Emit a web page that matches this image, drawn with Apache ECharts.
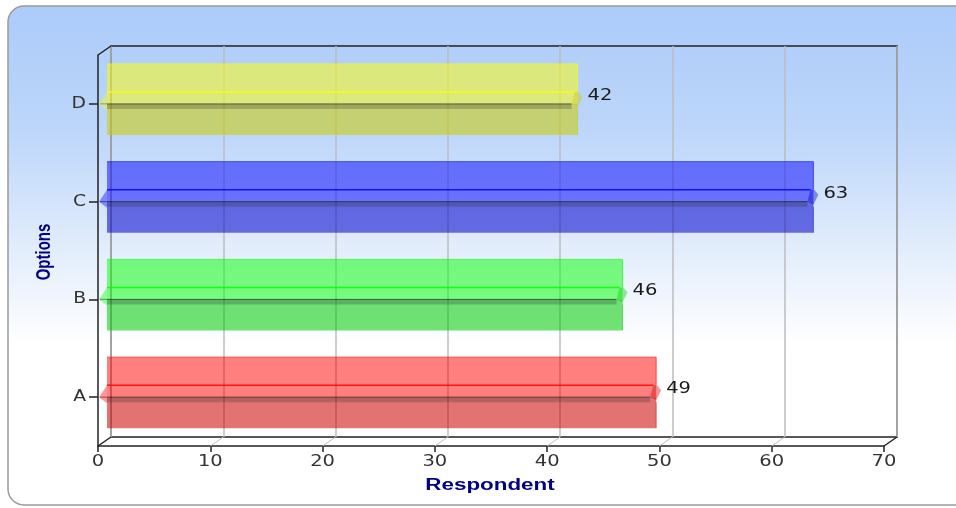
<!DOCTYPE html>
<html>
<head>
<meta charset="utf-8">
<script src="https://cdn.jsdelivr.net/npm/echarts@6/dist/echarts.min.js"></script>
<style>
  html, body { margin: 0; padding: 0; background: #fff; }
  #chart { width: 956px; height: 508px; }
</style>
</head>
<body>
<div id="chart"></div>
<script>
const categories = ["A", "B", "C", "D"];
const values = [49, 46, 63, 42];
const barColors = [[255, 0, 0], [0, 255, 0], [0, 0, 255], [255, 255, 0]];
const xTicks = [0, 10, 20, 30, 40, 50, 60, 70];
const xMax = 70;
const xStep = 10;

// pseudo 3d depth offset between front and back planes
const DX = 13, DY = -9;
const front = { left: 98, right: 72, top: 55, bottom: 62 };
const labelFont = '15px "DejaVu Sans"';

const chart = echarts.init(document.getElementById("chart"));

function rgba(c, a) {
  return `rgba(${c[0]},${c[1]},${c[2]},${a})`;
}

function renderBar(params, api) {
  const v = api.value(0);
  const ci = api.value(1);
  const p0 = api.coord([0, ci]);
  const p1 = api.coord([v, ci]);
  const c = p0[1];
  const xl = p0[0] + 9;
  const xr = p1[0] + 8;
  const col = barColors[params.dataIndex];
  const dark = col.map((x) => Math.round(x * 0.8));
  return {
    type: "group",
    children: [
      { type: "rect", shape: { x: xl, y: c - 40, width: xr - xl, height: 40 },
        style: { fill: rgba(col, 0.5) } },
      { type: "rect", shape: { x: xl, y: c, width: xr - xl, height: 31 },
        style: { fill: rgba(dark, 0.55) } },
      { type: "rect", shape: { x: xl, y: c, width: p1[0] + 2 - xl, height: 5 },
        style: { fill: "rgba(40,40,40,0.25)" } },
      { type: "polyline", shape: { points: [[xl, c - 40], [xr, c - 40], [xr, c - 12]] },
        style: { stroke: rgba(col, 0.6), lineWidth: 1, fill: null } },
      { type: "polyline", shape: { points: [[xr, c + 5], [xr, c + 31]] },
        style: { stroke: rgba(dark, 0.5), lineWidth: 1, fill: null } },
      { type: "line", shape: { x1: xl, y1: c - 12, x2: p1[0] + 5, y2: c - 12 },
        style: { stroke: rgba(col, 0.85), lineWidth: 1.5 } },
      { type: "line", shape: { x1: p0[0] + 2, y1: c, x2: p1[0] + 2, y2: c },
        style: { stroke: "rgba(0,0,0,0.55)", lineWidth: 1 } },
      { type: "polygon", shape: { points: [[xl, c - 12], [p0[0] + 1, c], [xl, c + 6]] },
        style: { fill: rgba(col, 0.4) } },
      { type: "polygon",
        shape: { points: [[p1[0] + 5, c - 12], [p1[0] + 9, c - 12], [p1[0] + 13, c - 7], [p1[0] + 8, c + 3], [p1[0] + 2, c]] },
        style: { fill: rgba(dark, 0.4) } },
      { type: "text", x: p1[0] + 18, y: c - 8, scaleX: 1.3,
        style: { text: String(v), font: labelFont, fill: "#1a1a1a",
                 align: "left", verticalAlign: "middle" } }
    ]
  };
}

function renderFrame(params, api) {
  const cs = params.coordSys;
  const v = api.value(0);
  const x = api.coord([v, 0])[0];
  const yb = cs.y + cs.height;
  const edge = v === 0 || v === xMax;
  const children = [
    { type: "line", shape: { x1: x, y1: yb, x2: x + DX, y2: yb + DY },
      style: { stroke: edge ? "#222" : "#c0c0c0", lineWidth: edge ? 1.5 : 1 } },
    { type: "text", x: x, y: yb + 16, scaleX: 1.3,
      style: { text: String(v), font: labelFont, fill: "#333",
               align: "center", verticalAlign: "middle" } }
  ];
  if (v === 0) {
    children.push({ type: "line", shape: { x1: cs.x, y1: cs.y, x2: cs.x + DX, y2: cs.y + DY },
      style: { stroke: "#222", lineWidth: 1.5 } });
  }
  return { type: "group", children };
}

function renderCategory(params, api) {
  const cs = params.coordSys;
  const y = api.coord([0, api.value(0)])[1];
  return {
    type: "text", x: cs.x - 12, y: y, scaleX: 1.25,
    style: { text: categories[params.dataIndex], font: labelFont, fill: "#333",
             align: "right", verticalAlign: "middle" }
  };
}

const option = {
  backgroundColor: "#fff",
  animation: false,
  graphic: [
    {
      type: "rect", z: -10, silent: true,
      shape: { x: 8, y: 6, width: 1000, height: 499, r: 16 },
      style: {
        fill: new echarts.graphic.LinearGradient(0, 0, 0, 1, [
          { offset: 0, color: "#abcbf9" },
          { offset: 0.25, color: "#bdd6fa" },
          { offset: 0.5, color: "#e4eefc" },
          { offset: 0.68, color: "#ffffff" },
          { offset: 1, color: "#ffffff" }
        ]),
        stroke: "#9a9a9a", lineWidth: 1.5
      }
    },
    {
      type: "text", x: 490, y: 486, scaleX: 1.4, z: 10,
      style: { text: "Respondent", font: 'bold 16px "Liberation Sans"', fill: "#000080",
               align: "center", verticalAlign: "middle" }
    },
    {
      type: "text", x: 45, y: 252, rotation: Math.PI / 2, scaleY: 1.3, z: 10,
      style: { text: "Options", font: 'bold 15px "Liberation Sans"', fill: "#000080",
               align: "center", verticalAlign: "middle" }
    }
  ],
  grid: [
    { left: front.left, right: front.right, top: front.top, bottom: front.bottom },
    {
      left: front.left + DX, right: front.right - DX, top: front.top + DY, bottom: front.bottom - DY,
      show: true, borderColor: "#222", borderWidth: 1.5, backgroundColor: "transparent"
    }
  ],
  xAxis: [
    {
      type: "value", gridIndex: 0, min: 0, max: xMax, interval: xStep,
      axisLine: { show: true, lineStyle: { color: "#222", width: 1.5 } },
      axisTick: { show: true, length: 6, lineStyle: { color: "#222", width: 1.5 } },
      axisLabel: { show: false },
      splitLine: { show: false }
    },
    {
      type: "value", gridIndex: 1, min: 0, max: xMax, interval: xStep,
      axisLine: { show: false }, axisTick: { show: false }, axisLabel: { show: false },
      splitLine: { show: true, lineStyle: { color: "#bdbdbd", width: 1.5 } }
    }
  ],
  yAxis: [
    {
      type: "category", gridIndex: 0, data: categories,
      axisLine: { show: true, lineStyle: { color: "#222", width: 1.5 } },
      axisTick: { show: true, alignWithLabel: true, length: 9, lineStyle: { color: "#222", width: 1.5 } },
      axisLabel: { show: false },
      splitLine: { show: false }
    },
    {
      type: "category", gridIndex: 1, data: categories,
      axisLine: { show: false }, axisTick: { show: false }, axisLabel: { show: false },
      splitLine: { show: false }
    }
  ],
  series: [
    {
      type: "custom", name: "frame", xAxisIndex: 0, yAxisIndex: 0, z: 3, silent: true,
      renderItem: renderFrame,
      data: xTicks.map((t) => [t, 0])
    },
    {
      type: "custom", name: "categories", xAxisIndex: 0, yAxisIndex: 0, z: 3, silent: true,
      renderItem: renderCategory,
      encode: { y: 0 },
      data: categories.map((c, i) => [i])
    },
    {
      type: "custom", name: "Respondent", xAxisIndex: 0, yAxisIndex: 0, z: 4,
      renderItem: renderBar,
      data: values.map((v, i) => [v, i])
    }
  ]
};

chart.setOption(option);
</script>
</body>
</html>
